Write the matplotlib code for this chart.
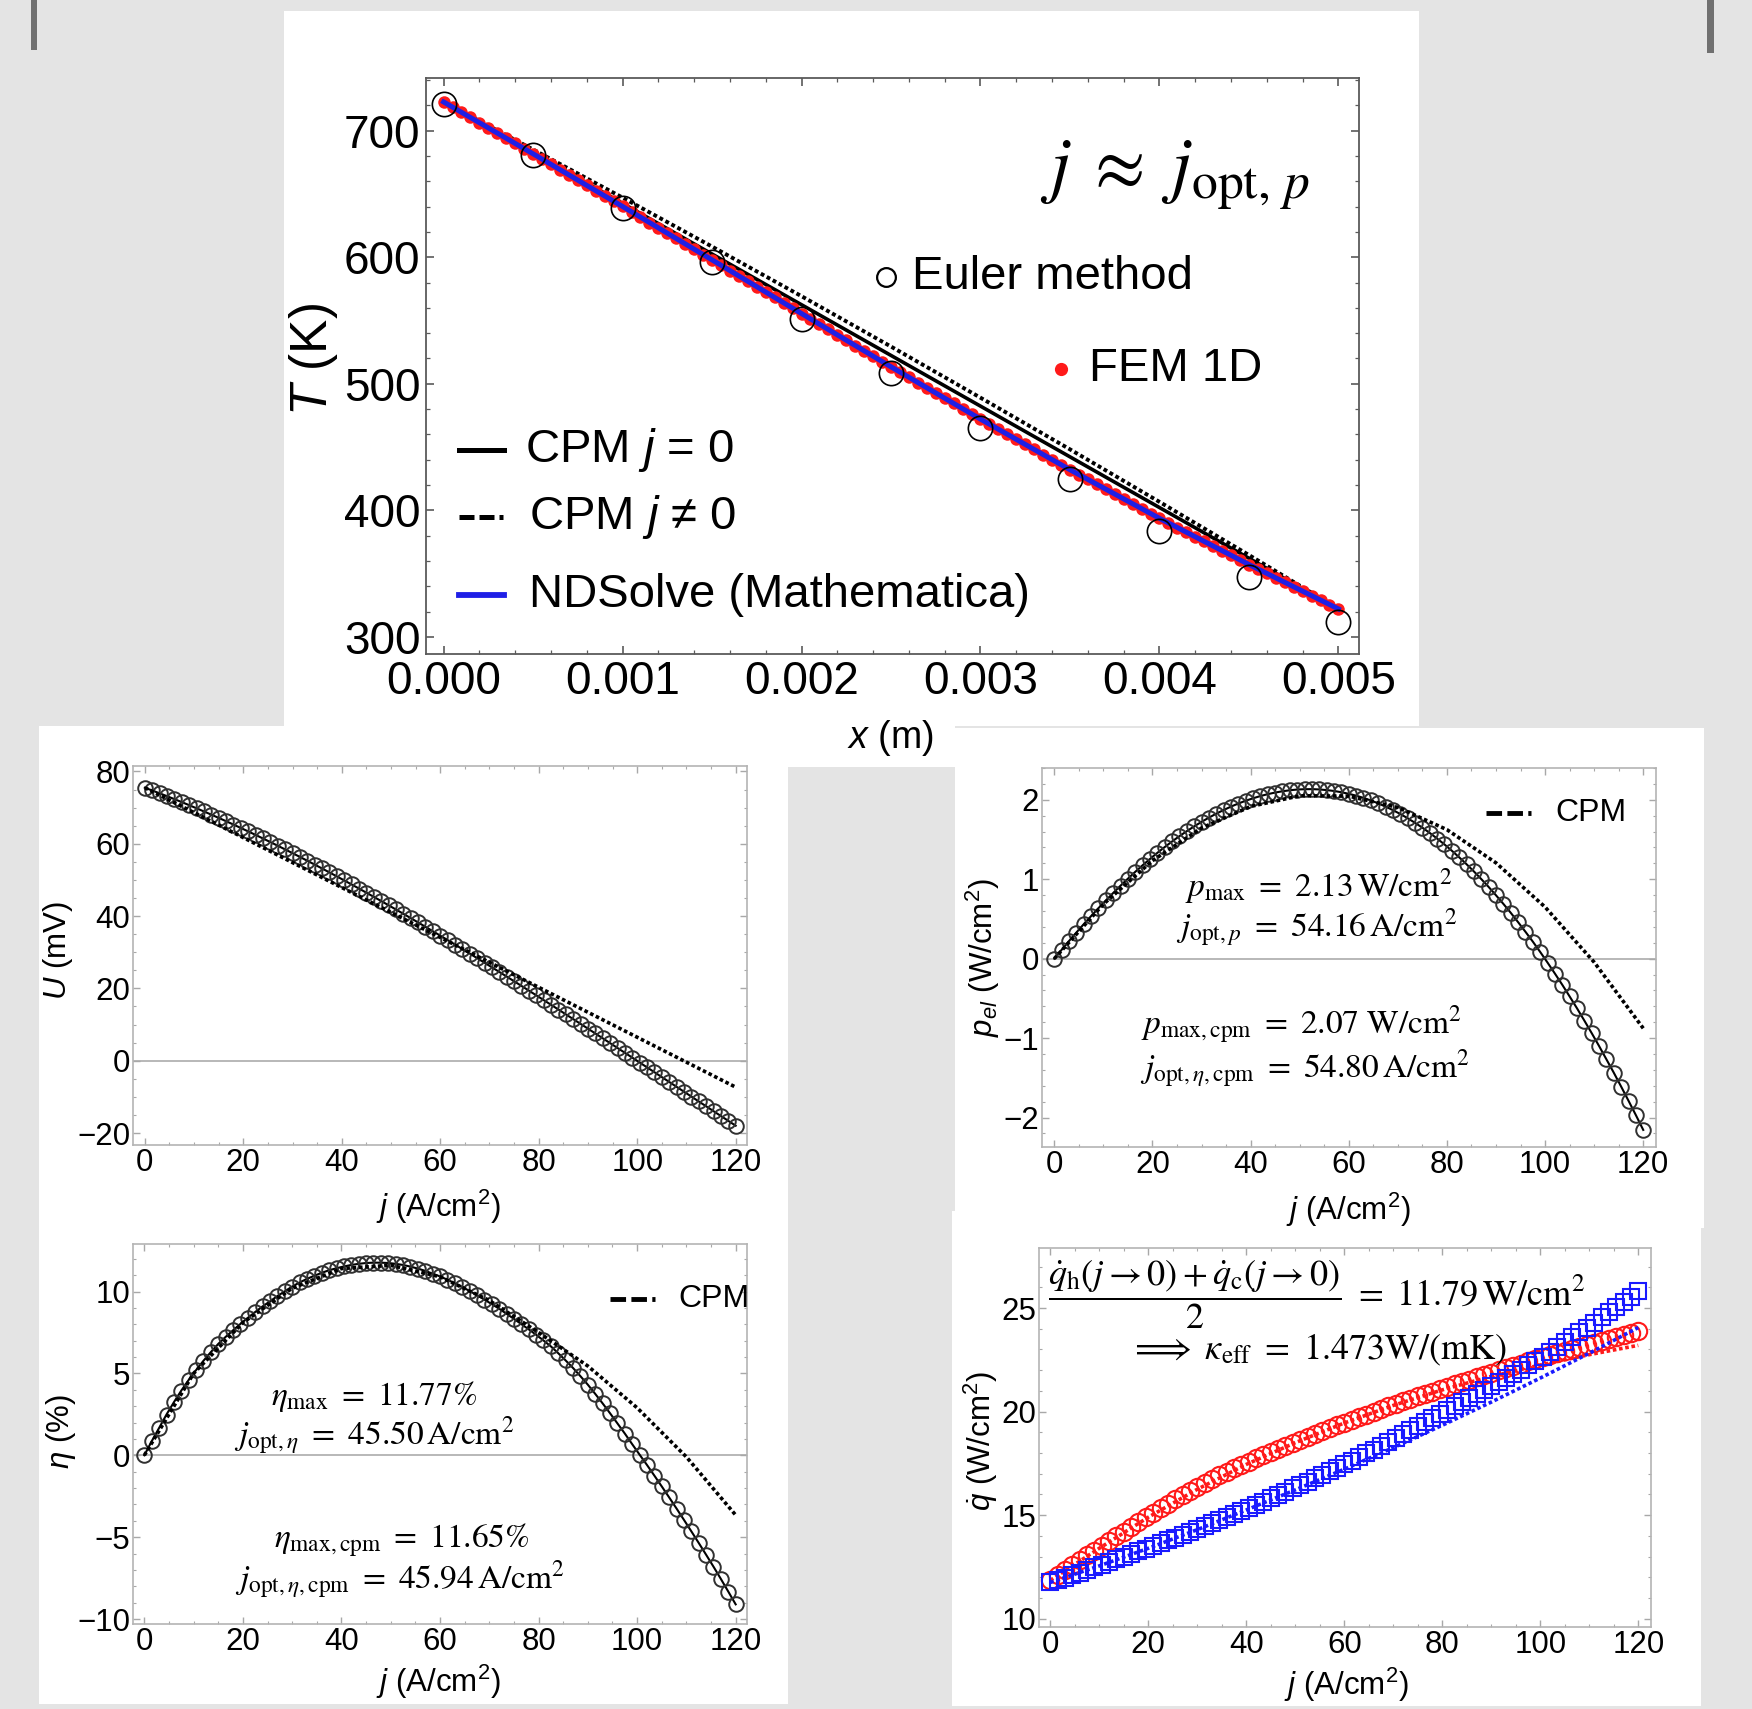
import numpy as np
import matplotlib
matplotlib.use("Agg")
import matplotlib.pyplot as plt
from matplotlib.patches import Rectangle
from matplotlib.ticker import MultipleLocator, FormatStrFormatter

plt.rcParams['font.family'] = ['Liberation Sans', 'DejaVu Sans']
plt.rcParams['mathtext.fontset'] = 'custom'
plt.rcParams['mathtext.rm'] = 'Liberation Sans'
plt.rcParams['mathtext.it'] = 'Liberation Sans:italic'
plt.rcParams['mathtext.bf'] = 'Liberation Sans:bold'

W, H = 1752, 1709

# ---- top: temperature profile along the leg ----
x_nodes = [0.0, 0.0005, 0.001, 0.0015, 0.002, 0.0025, 0.003, 0.0035, 0.004, 0.0045, 0.005]
euler_T = [721, 681, 638.5, 596.5, 551.5, 508.5, 465, 424.5, 384, 347, 312]
ndsolve_T = [722.7, 681.7, 640.1, 597.9, 555.5, 513.4, 472.1, 432.1, 393.7, 357.2, 322.1]
cpm_j0_x = [0.0, 0.005]
cpm_j0_T = [722.7, 322.1]
cpm_j_T = [722.7, 685.1, 647.1, 608.4, 569.2, 529.4, 489.0, 448.2, 406.7, 364.7, 322.1]
fem_T = [722.7, 718.6, 714.5, 710.4, 706.3, 702.2, 698.1, 694.0, 689.9, 685.8,
         681.7, 677.5, 673.4, 669.2, 665.1, 660.9, 656.7, 652.6, 648.4, 644.3,
         640.1, 635.9, 631.7, 627.4, 623.2, 619.0, 614.8, 610.6, 606.3, 602.1,
         597.9, 593.7, 589.4, 585.2, 580.9, 576.7, 572.5, 568.2, 564.0, 559.7,
         555.5, 551.3, 547.1, 542.9, 538.7, 534.5, 530.2, 526.0, 521.8, 517.6,
         513.4, 509.3, 505.1, 501.0, 496.9, 492.8, 488.6, 484.5, 480.4, 476.2,
         472.1, 468.1, 464.1, 460.1, 456.1, 452.1, 448.1, 444.1, 440.1, 436.1,
         432.1, 428.3, 424.4, 420.6, 416.7, 412.9, 409.1, 405.2, 401.4, 397.5,
         393.7, 390.1, 386.4, 382.8, 379.1, 375.5, 371.8, 368.2, 364.5, 360.9,
         357.2, 353.7, 350.2, 346.7, 343.2, 339.7, 336.1, 332.6, 329.1, 325.6, 322.1]
fem_x = np.linspace(0, 0.005, len(fem_T))

# ---- bottom: characteristics vs current density ----
j_fine = np.arange(0, 120.01, 1.5)
j_coarse = np.arange(0, 120.01, 10)

U_exact = [75.50, 74.73, 73.95, 73.16, 72.34, 71.52, 70.67, 69.81, 68.94, 68.05,
           67.15, 66.24, 65.31, 64.36, 63.41, 62.44, 61.46, 60.46, 59.45, 58.43,
           57.40, 56.36, 55.30, 54.24, 53.16, 52.07, 50.97, 49.86, 48.74, 47.61,
           46.47, 45.32, 44.16, 43.00, 41.82, 40.64, 39.44, 38.24, 37.03, 35.81,
           34.59, 33.36, 32.12, 30.87, 29.62, 28.36, 27.10, 25.83, 24.55, 23.27,
           21.98, 20.69, 19.39, 18.09, 16.78, 15.47, 14.16, 12.84, 11.52, 10.20,
           8.87, 7.54, 6.21, 4.87, 3.53, 2.20, 0.86, -0.49, -1.83, -3.17,
           -4.52, -5.86, -7.21, -8.56, -9.90, -11.26, -12.59, -13.94, -15.28, -16.62,
           -17.96]
U_cpm = [75.5, 68.6, 61.7, 54.8, 47.9, 41.0, 34.1, 27.2, 20.3, 13.4, 6.5, -0.4, -7.3]

p_exact = [0.0, 0.112, 0.222, 0.329, 0.434, 0.536, 0.636, 0.733, 0.827, 0.919,
           1.007, 1.093, 1.176, 1.255, 1.332, 1.405, 1.475, 1.542, 1.605, 1.665,
           1.722, 1.775, 1.825, 1.871, 1.914, 1.953, 1.988, 2.019, 2.047, 2.071,
           2.091, 2.107, 2.120, 2.129, 2.133, 2.134, 2.130, 2.122, 2.111, 2.095,
           2.075, 2.052, 2.024, 1.991, 1.955, 1.914, 1.870, 1.821, 1.768, 1.710,
           1.649, 1.583, 1.512, 1.438, 1.359, 1.276, 1.189, 1.098, 1.002, 0.903,
           0.798, 0.690, 0.578, 0.460, 0.339, 0.215, 0.085, -0.049, -0.187, -0.328,
           -0.475, -0.624, -0.779, -0.937, -1.099, -1.267, -1.435, -1.610, -1.788, -1.969,
           -2.155]
p_cpm = [0.0, 0.686, 1.234, 1.644, 1.916, 2.050, 2.046, 1.904, 1.624, 1.206, 0.650, -0.044, -0.876]

eta_exact = [0.0, 0.86, 1.67, 2.49, 3.24, 3.95, 4.60, 5.20, 5.77, 6.30,
             6.80, 7.23, 7.63, 8.02, 8.39, 8.75, 9.09, 9.40, 9.72, 10.01,
             10.30, 10.55, 10.77, 10.96, 11.14, 11.30, 11.42, 11.53, 11.62, 11.69,
             11.74, 11.76, 11.76, 11.74, 11.69, 11.62, 11.52, 11.40, 11.26, 11.09,
             10.92, 10.72, 10.50, 10.28, 10.03, 9.78, 9.51, 9.23, 8.95, 8.64,
             8.33, 8.01, 7.69, 7.36, 7.01, 6.65, 6.23, 5.79, 5.33, 4.83,
             4.31, 3.75, 3.17, 2.57, 1.95, 1.33, 0.68, 0.04, -0.59, -1.24,
             -1.90, -2.57, -3.25, -3.94, -4.64, -5.35, -6.07, -6.80, -7.55, -8.32,
             -9.10]
eta_cpm = [0.0, 5.0, 8.1, 10.2, 11.4, 11.6, 10.9, 9.45, 7.5, 5.45, 2.9, -0.1, -3.65]

qh_exact = [11.85, 12.10, 12.34, 12.58, 12.82, 13.06, 13.29, 13.53, 13.75, 13.98,
            14.21, 14.44, 14.66, 14.89, 15.11, 15.33, 15.55, 15.76, 15.97, 16.17,
            16.37, 16.56, 16.74, 16.92, 17.09, 17.26, 17.43, 17.59, 17.75, 17.90,
            18.06, 18.21, 18.36, 18.50, 18.65, 18.79, 18.93, 19.07, 19.20, 19.34,
            19.47, 19.60, 19.73, 19.86, 19.99, 20.12, 20.25, 20.37, 20.49, 20.61,
            20.73, 20.85, 20.97, 21.09, 21.21, 21.32, 21.43, 21.55, 21.66, 21.77,
            21.88, 21.99, 22.10, 22.20, 22.31, 22.42, 22.52, 22.62, 22.73, 22.83,
            22.93, 23.03, 23.12, 23.23, 23.32, 23.42, 23.52, 23.61, 23.70, 23.79,
            23.89]
qc_exact = [11.75, 11.87, 11.99, 12.11, 12.23, 12.36, 12.49, 12.61, 12.74, 12.86,
            12.99, 13.12, 13.25, 13.38, 13.51, 13.64, 13.78, 13.92, 14.05, 14.19,
            14.33, 14.47, 14.61, 14.75, 14.90, 15.05, 15.20, 15.35, 15.50, 15.65,
            15.81, 15.97, 16.12, 16.29, 16.45, 16.61, 16.78, 16.95, 17.11, 17.29,
            17.46, 17.63, 17.81, 17.99, 18.17, 18.35, 18.54, 18.72, 18.91, 19.10,
            19.29, 19.48, 19.67, 19.87, 20.06, 20.26, 20.45, 20.64, 20.84, 21.03,
            21.23, 21.43, 21.63, 21.82, 22.03, 22.23, 22.45, 22.66, 22.89, 23.11,
            23.34, 23.58, 23.82, 24.06, 24.30, 24.55, 24.80, 25.04, 25.30, 25.55,
            25.80]
qh_cpm = [11.85, 13.4, 14.9, 16.25, 17.45, 18.5, 19.45, 20.3, 21.05, 21.7, 22.25, 22.75, 23.2]
qc_cpm = [11.75, 12.55, 13.4, 14.3, 15.25, 16.22, 17.22, 18.26, 19.34, 20.46, 21.62, 22.82, 24.06]


def frac(x0, y0, x1, y1):
    # pixel box (top-left origin) -> figure fraction [left, bottom, width, height]
    return [x0 / W, 1 - y1 / H, (x1 - x0) / W, (y1 - y0) / H]


def add_box(x0, y0, x1, y1, color='white'):
    l, b, w, h = frac(x0, y0, x1, y1)
    fig.add_artist(Rectangle((l, b), w, h, transform=fig.transFigure,
                             facecolor=color, edgecolor='none', zorder=-5))


def small_axes(box, xlim, ylim, ymaj, ymin, zero_line=True):
    ax = fig.add_axes(frac(*box))
    ax.set_xlim(xlim)
    ax.set_ylim(ylim)
    ax.xaxis.set_major_locator(MultipleLocator(20))
    ax.xaxis.set_minor_locator(MultipleLocator(5))
    ax.yaxis.set_major_locator(MultipleLocator(ymaj))
    ax.yaxis.set_minor_locator(MultipleLocator(ymin))
    ax.tick_params(which='both', direction='in', top=True, right=True,
                   color='#a8a8a8', labelsize=22.5)
    ax.tick_params(which='major', length=5, width=1)
    ax.tick_params(which='minor', length=2.5, width=0.8)
    ax.tick_params(axis='x', pad=2.5)
    ax.tick_params(axis='y', pad=2)
    for s in ax.spines.values():
        s.set_color('#b4b4b4')
        s.set_linewidth(1.2)
    if zero_line:
        ax.axhline(0, color='#b8b8b8', lw=1.4, zorder=1)
    return ax


def set_labels(ax, xl, yl, xpos, ypos, size=22.5):
    ax.set_xlabel(xl, fontsize=size, va='center')
    ax.xaxis.set_label_coords(*xpos)
    ax.set_ylabel(yl, fontsize=size, va='center')
    ax.yaxis.set_label_coords(*ypos)


def cpm_key(ax, x0, x1, y, tx):
    ax.plot([x0, x1], [y, y], transform=ax.transAxes, color='black', lw=3.5,
            dashes=(3.2, 1.1, 3.2, 1.1, 0.8, 1.1), clip_on=False)
    ax.text(tx, y, 'CPM', transform=ax.transAxes, fontsize=23, va='center', ha='left')


fig = plt.figure(figsize=(W / 100, H / 100), dpi=100, facecolor='#e4e4e4')

# white panels and the two dark marks at the top
add_box(284, 11, 1419, 726)
add_box(788, 720, 955, 767)
add_box(39, 726, 788, 1226)
add_box(39, 1226, 788, 1704)
add_box(955, 728, 1704, 1228)
add_box(952, 1211, 1701, 1706)
add_box(31, 0, 37, 50, '#707070')
add_box(1707, 0, 1714, 53, '#707070')

dotted = (1.0, 0.75)

# ---------- top plot ----------
ax = fig.add_axes(frac(426, 78, 1359, 654))
ax.set_xlim(-0.0000983, 0.005115)
ax.set_ylim(286.5, 741.6)
ax.plot(cpm_j0_x, cpm_j0_T, color='black', lw=2.6, zorder=2)
ax.plot(x_nodes, cpm_j_T, color='black', lw=2.8, dashes=dotted, zorder=2)
ax.plot(fem_x, fem_T, ls='none', marker='o', ms=9.0, color='#ff1a1a', mec='none', zorder=3)
ax.plot(x_nodes, ndsolve_T, color='#1f1fe6', lw=3.6, zorder=4)
ax.plot(x_nodes, euler_T, ls='none', marker='o', ms=17.5, mfc='none', mec='black', mew=1.2, zorder=5)

ax.xaxis.set_major_locator(MultipleLocator(0.001))
ax.xaxis.set_minor_locator(MultipleLocator(0.0002))
ax.xaxis.set_major_formatter(FormatStrFormatter('%.3f'))
ax.yaxis.set_major_locator(MultipleLocator(100))
ax.yaxis.set_minor_locator(MultipleLocator(20))
ax.tick_params(which='both', direction='in', top=True, right=True, color='#5a5a5a', labelsize=33)
ax.tick_params(which='major', length=6, width=1.2)
ax.tick_params(which='minor', length=3, width=0.9)
ax.tick_params(axis='x', pad=4)
ax.tick_params(axis='y', pad=4)
for s in ax.spines.values():
    s.set_color('#5a5a5a')
    s.set_linewidth(1.3)
ax.set_xlabel(r'$x$ (m)', fontsize=27, va='center')
ax.xaxis.set_label_coords(0.498, -0.145)
ax.set_ylabel(r'$T$ (K)', fontsize=37, va='center')
ax.yaxis.set_label_coords(-0.121, 0.511)

ax.text(0.803, 0.832, r'$j\;\approx\;j_{\mathrm{opt},\,p}$', transform=ax.transAxes,
        fontsize=53, ha='center', va='center', math_fontfamily='stix')
ax.plot([0.493], [0.655], transform=ax.transAxes, marker='o', ms=13.5, mfc='none',
        mec='black', mew=1.6, clip_on=False)
ax.text(0.521, 0.655, 'Euler method', transform=ax.transAxes, fontsize=34, va='center')
ax.plot([0.681], [0.495], transform=ax.transAxes, marker='o', ms=9.5, color='#ff1a1a',
        mec='none', clip_on=False)
ax.text(0.711, 0.495, 'FEM 1D', transform=ax.transAxes, fontsize=34, va='center')
ax.plot([0.035, 0.084], [0.354, 0.354], transform=ax.transAxes, color='black', lw=3.6)
ax.text(0.106, 0.354, r'CPM $j$ = 0', transform=ax.transAxes, fontsize=34, va='center')
ax.plot([0.035, 0.084], [0.238, 0.238], transform=ax.transAxes, color='black', lw=3.6,
        dashes=(3.0, 1.0, 3.0, 1.0, 0.8, 1.0))
ax.text(0.11, 0.238, 'CPM $j$ \u2260 0', transform=ax.transAxes, fontsize=34, va='center')
ax.plot([0.035, 0.084], [0.1016, 0.1016], transform=ax.transAxes, color='#1f1fe6', lw=4.2)
ax.text(0.11, 0.1016, 'NDSolve (Mathematica)', transform=ax.transAxes, fontsize=34, va='center')

black_ring = dict(ls='none', marker='o', ms=10.5, mfc='none', mec='#303030', mew=1.4, zorder=4)

# ---------- U ----------
ax = small_axes((133, 766, 747, 1145), (-2.4, 122.3), (-23.3, 81.5), 20, 5)
ax.plot(j_fine, U_exact, color='black', lw=1.5, zorder=3)
ax.plot(j_fine, U_exact, **black_ring)
ax.plot(j_coarse, U_cpm, color='black', lw=2.6, dashes=dotted, zorder=5)
set_labels(ax, r'$j$ (A/cm$^2$)', r'$U$ (mV)', (0.497, -0.164), (-0.122, 0.512))

serif = dict(fontsize=24, ha='center', va='center', math_fontfamily='stix')

# ---------- p_el ----------
ax = small_axes((1042, 768, 1656, 1147), (-2.5, 122.6), (-2.37, 2.4), 1, 0.2)
ax.plot(j_fine, p_exact, color='black', lw=1.5, zorder=3)
ax.plot(j_fine, p_exact, **black_ring)
ax.plot(j_coarse, p_cpm, color='black', lw=2.6, dashes=dotted, zorder=5)
set_labels(ax, r'$j$ (A/cm$^2$)', r'$p_{el}$ (W/cm$^2$)', (0.499, -0.166), (-0.096, 0.5))
cpm_key(ax, 0.723, 0.796, 0.881, 0.836)
ax.text(0.45, 0.688, r'$p_{\mathrm{max}}\ =\ 2.13\,\mathrm{W/cm^2}$', transform=ax.transAxes, **serif)
ax.text(0.447, 0.578, r'$j_{\mathrm{opt},p}\ =\ 54.16\,\mathrm{A/cm^2}$', transform=ax.transAxes, **serif)
ax.text(0.423, 0.322, r'$p_{\mathrm{max,cpm}}\ =\ 2.07\ \mathrm{W/cm^2}$', transform=ax.transAxes, **serif)
ax.text(0.428, 0.207, r'$j_{\mathrm{opt,}\eta\mathrm{,cpm}}\ =\ 54.80\,\mathrm{A/cm^2}$', transform=ax.transAxes, **serif)

# ---------- efficiency ----------
ax = small_axes((133, 1244, 747, 1624), (-2.3, 122.3), (-10.3, 12.9), 5, 1)
ax.plot(j_fine, eta_exact, color='black', lw=1.5, zorder=3)
ax.plot(j_fine, eta_exact, **black_ring)
ax.plot(j_coarse, eta_cpm, color='black', lw=2.6, dashes=dotted, zorder=5)
set_labels(ax, r'$j$ (A/cm$^2$)', r'$\eta$ (%)', (0.497, -0.151), (-0.117, 0.505))
cpm_key(ax, 0.777, 0.85, 0.854, 0.889)
ax.text(0.393, 0.598, r'$\eta_{\mathrm{max}}\ =\ 11.77\%$', transform=ax.transAxes, **serif)
ax.text(0.393, 0.494, r'$j_{\mathrm{opt},\eta}\ =\ 45.50\,\mathrm{A/cm^2}$', transform=ax.transAxes, **serif)
ax.text(0.438, 0.22, r'$\eta_{\mathrm{max,cpm}}\ =\ 11.65\%$', transform=ax.transAxes, **serif)
ax.text(0.435, 0.115, r'$j_{\mathrm{opt,}\eta\mathrm{,cpm}}\ =\ 45.94\,\mathrm{A/cm^2}$', transform=ax.transAxes, **serif)

# ---------- heat flows ----------
ax = small_axes((1039, 1248, 1651, 1627), (-2.3, 122.6), (9.6, 27.9), 5, 1, zero_line=False)
ax.plot(j_fine, qh_exact, ls='none', marker='o', ms=12.5, mfc='none', mec='#ff1a1a', mew=1.5, zorder=3)
ax.plot(j_coarse, qh_cpm, color='#ff1a1a', lw=2.6, dashes=dotted, zorder=4)
ax.plot(j_fine, qc_exact, ls='none', marker='s', ms=11, mfc='none', mec='#1a1aff', mew=1.5, zorder=5)
ax.plot(j_coarse, qc_cpm, color='#1a1aff', lw=2.6, dashes=dotted, zorder=6)
set_labels(ax, r'$j$ (A/cm$^2$)', r'$\dot{q}$ (W/cm$^2$)', (0.502, -0.153), (-0.095, 0.49))
ax.text(0.453, 0.877,
        r'$\dfrac{\dot{q}_{\mathrm{h}}(j\rightarrow 0)+\dot{q}_{\mathrm{c}}(j\rightarrow 0)}{2}\ =\ 11.79\,\mathrm{W/cm^2}$',
        transform=ax.transAxes, fontsize=26, ha='center', va='center', math_fontfamily='stix')
ax.text(0.456, 0.732, r'$\Longrightarrow\ \kappa_{\mathrm{eff}}\ =\ 1.473\mathrm{W/(mK)}$',
        transform=ax.transAxes, fontsize=26, ha='center', va='center', math_fontfamily='stix')

fig.savefig('out.png', dpi=100, facecolor=fig.get_facecolor())
